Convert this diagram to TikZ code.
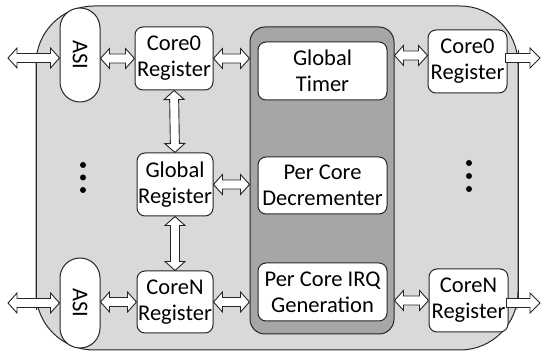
\documentclass[tikz,border=0pt]{standalone}
\usepackage{fontspec}
\setmainfont{Carlito}
\usetikzlibrary{calc}
\definecolor{lightg}{HTML}{D9D9D9}
\definecolor{darkg}{HTML}{A6A6A6}
\definecolor{linec}{HTML}{262626}
\newcommand\dbarrow[2]{%
 \draw[arr] (#1) -- ($(#1)!9pt!(#2)!10pt!90:(#2)$) -- ($(#1)!9pt!(#2)!4.5pt!90:(#2)$)
   -- ($(#2)!9pt!(#1)!4.5pt!-90:(#1)$) -- ($(#2)!9pt!(#1)!10pt!-90:(#1)$) -- (#2)
   -- ($(#2)!9pt!(#1)!10pt!90:(#1)$) -- ($(#2)!9pt!(#1)!4.5pt!90:(#1)$)
   -- ($(#1)!9pt!(#2)!4.5pt!-90:(#2)$) -- ($(#1)!9pt!(#2)!10pt!-90:(#2)$) -- cycle;}
\newcommand\sgarrow[2]{%
 \draw[arr] ($(#1)!4.5pt!90:(#2)$)
   -- ($(#2)!10pt!(#1)!4.5pt!-90:(#1)$) -- ($(#2)!10pt!(#1)!10pt!-90:(#1)$) -- (#2)
   -- ($(#2)!10pt!(#1)!10pt!90:(#1)$) -- ($(#2)!10pt!(#1)!4.5pt!90:(#1)$)
   -- ($(#1)!4.5pt!-90:(#2)$) -- cycle;}
\begin{document}
\begin{tikzpicture}[x=1pt,y=-1pt,
  line width=1pt,
  every node/.style={font=\fontsize{22.5}{26}\selectfont, align=center, inner sep=0pt, text=black},
  box/.style={draw=linec, fill=white, rounded corners=8pt},
  pill/.style={draw=linec, fill=white, rounded corners=20pt, minimum width=40pt},
  arr/.style={draw=linec, fill=white, line width=0.9pt, line join=miter}]
\useasboundingbox (0,0) rectangle (541,352);
% outer shape
\fill[lightg] (36,60) rectangle (518,310);
\draw[linec, fill=lightg, rounded corners=58pt] (36,6) rectangle (518,350);
\draw[linec] (36,60) -- (36,310);
\draw[linec] (518,50) -- (518,300);
% panel
\node[draw=linec, fill=darkg, rounded corners=15pt, minimum width=144pt, minimum height=307pt] (panel) at (322,180.5) {};
\node[box, minimum width=129pt, minimum height=58pt] (gt) at (322.5,71) {Global\\Timer};
\node[box, minimum width=129pt, minimum height=57pt] (pcd) at (322.5,185.5) {Per Core\\Decrementer};
\node[box, minimum width=129pt, minimum height=58pt] (irq) at (322.5,292) {Per Core IRQ\\Generation};
% left registers
\node[box, minimum width=78pt, minimum height=63pt] (c0l) at (174,58.5) {Core0\\Register};
\node[box, minimum width=76pt, minimum height=63pt] (gl) at (175,184.5) {Global\\Register};
\node[box, minimum width=76pt, minimum height=62pt] (cnl) at (175,302) {CoreN\\Register};
% ASI
\node[pill, minimum height=94pt] (asi1) at (80,55) {\rotatebox{-90}{ASI}};
\node[pill, minimum height=90pt] (asi2) at (80,303) {\rotatebox{-90}{ASI}};
% right registers
\node[box, minimum width=79pt, minimum height=63pt] (c0r) at (467.5,61.5) {Core0\\Register};
\node[box, minimum width=79pt, minimum height=63pt] (cnr) at (468.5,300.5) {CoreN\\Register};
% dots
\foreach \yy in {165,177.5,190} \fill (83,\yy) circle (3pt);
\foreach \yy in {163,176,189} \fill (469,\yy) circle (3pt);
% coordinates
\coordinate (l1) at (8,58);
\coordinate (l1e) at (asi1.west |- l1);
\coordinate (l2) at (8,303);
\coordinate (l2e) at (asi2.west |- l2);
\coordinate (a1) at (asi1.east |- c0l.west);
\coordinate (a2) at (asi2.east |- cnl.west);
\coordinate (p1) at (panel.west |- c0l.east);
\coordinate (p2) at (panel.west |- gl.east);
\coordinate (p3) at (panel.west |- cnl.east);
\coordinate (r1) at ($(c0r.west)+(0,-6)$);
\coordinate (q1) at (panel.east |- r1);
\coordinate (r2) at (cnr.west);
\coordinate (q2) at (panel.east |- r2);
\coordinate (o1s) at ($(c0r.east)+(-2,-3.5)$);
\coordinate (o1) at (540,58);
\coordinate (o2s) at ($(cnr.east)+(-2,2.5)$);
\coordinate (o2) at (540,303);
% arrows
\dbarrow{l1}{l1e}
\dbarrow{l2}{l2e}
\dbarrow{a1}{c0l.west}
\dbarrow{a2}{cnl.west}
\dbarrow{c0l.east}{p1}
\dbarrow{gl.east}{p2}
\dbarrow{cnl.east}{p3}
\dbarrow{c0l.south}{gl.north}
\dbarrow{gl.south}{cnl.north}
\dbarrow{q1}{r1}
\dbarrow{q2}{r2}
\sgarrow{o1s}{o1}
\sgarrow{o2s}{o2}
\end{tikzpicture}
\end{document}
